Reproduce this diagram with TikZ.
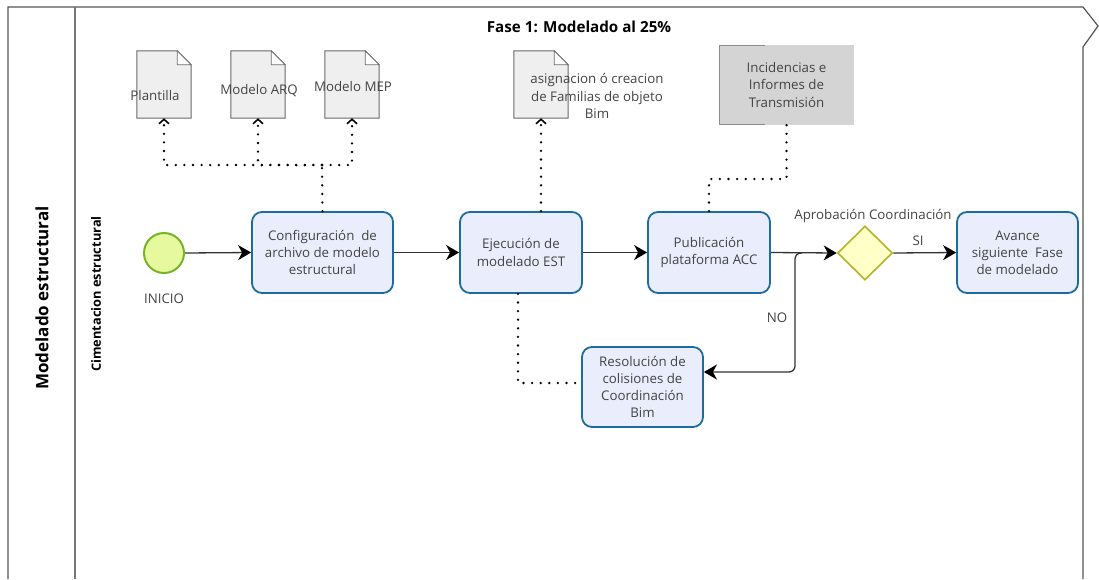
\documentclass[tikz,border=0pt]{standalone}
\usepackage{fontspec}
\setmainfont{Open Sans}
\usetikzlibrary{arrows.meta,shapes.geometric}
\definecolor{taskfill}{HTML}{E9EDFC}
\definecolor{taskline}{HTML}{1D6C9F}
\definecolor{txt}{HTML}{444444}
\definecolor{startfill}{HTML}{E6F99E}
\definecolor{startline}{HTML}{78B42A}
\definecolor{gwfill}{HTML}{FFFFC8}
\definecolor{gwline}{HTML}{B3B32C}
\definecolor{docfill}{HTML}{EFEFEF}
\definecolor{docline}{HTML}{6A6A6A}
\definecolor{annfill}{HTML}{D4D4D4}
\definecolor{frame}{HTML}{555555}
\tikzset{
  task/.style={draw=taskline, fill=taskfill, line width=1.8pt, rounded corners=10pt,
    minimum height=81pt, inner sep=1pt, align=center, text=txt,
    font=\fontsize{13.3}{17.2}\selectfont},
  startev/.style={circle, draw=startline, fill=startfill, line width=2pt, minimum size=40pt, inner sep=0pt},
  gateway/.style={diamond, draw=gwline, fill=gwfill, line width=1.6pt, minimum width=55pt,
    minimum height=54pt, inner sep=0pt},
  docbox/.style={minimum width=54pt, minimum height=67pt, inner sep=0pt},
  lbl/.style={text=txt, align=center, font=\fontsize{13.3}{17.2}\selectfont},
  flow/.style={draw=black!80, line width=1.3pt,
    -{Stealth[length=13pt,width=15pt,inset=4pt,color=black,fill=black]}},
  assoc/.style={draw=black, line width=2.6pt, line cap=round, dash pattern=on 0pt off 8.6pt},
  barb/.style={-{Straight Barb[length=4.5pt,width=10pt,line width=1.6pt]}},
}
\newcommand{\docshape}[1]{%
  \draw[draw=docline, fill=docfill, line width=1pt]
    (#1.south west) -- (#1.north west) -- ([xshift=-14pt]#1.north east)
    -- ([yshift=-14pt]#1.north east) -- (#1.south east) -- cycle;
  \draw[draw=docline, fill=white, line width=0.8pt]
    ([xshift=-14pt]#1.north east) -- ([xshift=-14pt,yshift=-14pt]#1.north east)
    -- ([yshift=-14pt]#1.north east) -- cycle;}
\begin{document}
\begin{tikzpicture}[x=1pt, y=-1pt]
\useasboundingbox (0,0) rectangle (1099,579);
\fill[white] (0,0) rectangle (1099,579);

% pool and lane
\draw[frame, line width=1.2pt] (8,579) -- (8,7) -- (1083,7) -- (1098,26) -- (1083,47) -- (1083,579);
\draw[frame!80, line width=1.5pt] (75,7) -- (75,579);
\node[rotate=90, font=\bfseries\fontsize{17}{19}\selectfont] (pool) at (42,298) {Modelado estructural};
\node[rotate=90, font=\bfseries\fontsize{12.8}{14}\selectfont] (lane) at (96,294) {Cimentacion estructural};
\node[font=\bfseries\fontsize{15.2}{17}\selectfont] (title) at (579,27) {Fase 1: Modelado al 25\%};

% data objects
\node[docbox] (d1) at (164,84.5) {};
\node[docbox] (d2) at (258,84.5) {};
\node[docbox] (d3) at (352,84.5) {};
\node[docbox] (d4) at (541,84.5) {};
\docshape{d1}\docshape{d2}\docshape{d3}\docshape{d4}
\node[lbl] (t1) at (155,96) {Plantilla};
\node[lbl] (t2) at (259,91) {Modelo ARQ};
\node[lbl] (t3) at (353,87) {Modelo MEP};
\node[lbl] (t4) at (597,96) {asignacion ó creacion\\de Familias de objeto\\Bim};

% annotation
\node[fill=annfill, minimum width=135pt, minimum height=80pt, inner sep=0pt, lbl] (inc) at (786.5,85)
  {Incidencias e\\Informes de\\Transmisión};
\draw[draw=black!45, line width=1.1pt] (765,45.5) -- (719.5,45.5) -- (719.5,124.5) -- (765,124.5);

% events, tasks, gateway
\node[startev] (ini) at (164,253) {};
\node[lbl] (inilbl) at (164,299) {INICIO};
\node[task, minimum width=141pt] (conf) at (322.5,252.5) {Configuración\ \ de\\archivo de modelo\\estructural};
\node[task, minimum width=122pt] (ejec) at (521,252.5) {Ejecución de\\modelado EST};
\node[task, minimum width=122pt] (publ) at (709,252.5) {Publicación\\plataforma ACC};
\node[task, minimum width=121pt] (avan) at (1017.5,252.5) {Avance\\siguiente\ \ Fase\\de modelado};
\node[task, minimum width=121pt, minimum height=80pt] (reso) at (642.5,387) {Resolución de\\colisiones de\\Coordinación\\Bim};
\node[gateway] (gw) at (865,253) {};
\node[lbl] (gwlbl) at (873,216) {Aprobación Coordinación};
\node[lbl] (si) at (918,241) {SI};
\node[lbl] (no) at (777,318) {NO};

% sequence flows
\draw[flow] (ini.east) -- (conf.west);
\draw[flow] (conf.east) -- (ejec.west);
\draw[flow] (ejec.east) -- (publ.west);
\draw[flow] (publ.east) -- (gw.west);
\draw[flow] (gw.east) -- (avan.west);
\coordinate (nb) at (802,253);
\coordinate (nc) at (795,372);
\draw[flow, rounded corners=6pt] (nb) -| (nc) -- ([yshift=15pt]reso.east);

% associations
\coordinate (j1) at (322,165);
\draw[assoc] (conf.north) -- (j1);
\draw[assoc, barb] (j1) -| (d1.south);
\draw[assoc, barb] (j1) -| (d2.south);
\draw[assoc, barb] (j1) -| (d3.south);
\draw[assoc, barb] (d4.south |- ejec.north) -- (d4.south);
\coordinate (k1) at (0,179);
\draw[assoc] (inc.south) -- (inc.south |- k1) -| (publ.north);
\draw[assoc] ([xshift=-3pt]ejec.south) |- ([yshift=4pt]reso.west);
\end{tikzpicture}
\end{document}
